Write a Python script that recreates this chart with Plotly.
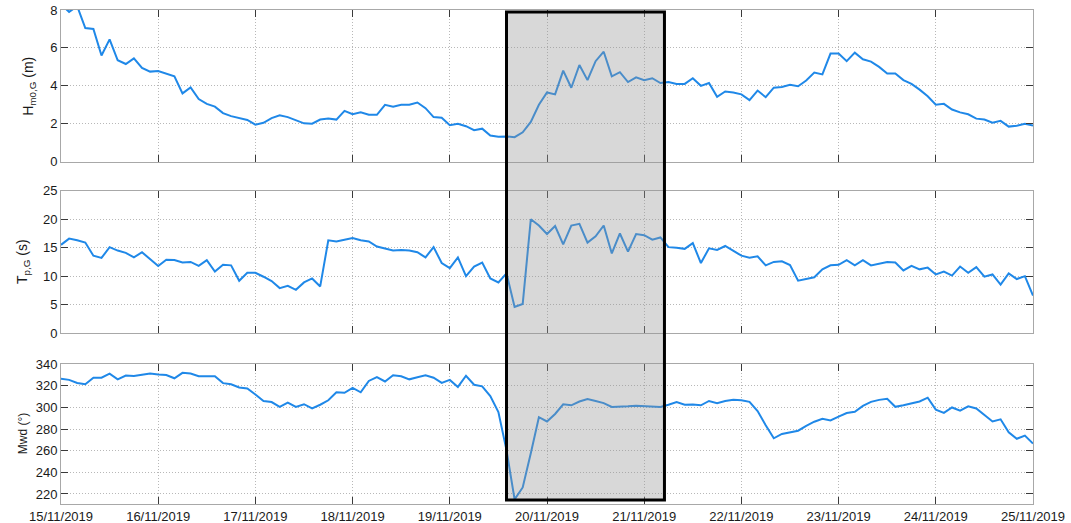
import pandas as pd
import plotly.graph_objects as go

# 2-hourly wave parameters, 15/11/2019 00:00 -> 25/11/2019 00:00
times = pd.date_range("2019-11-15 00:00", periods=121, freq="2h")

hm0 = [8.3, 7.9, 8.2, 7.05, 7.0, 5.6, 6.45, 5.35, 5.15, 5.45, 4.95, 4.75,
       4.78, 4.65, 4.5, 3.6, 3.92, 3.3, 3.05, 2.9, 2.56, 2.4, 2.3, 2.2,
       1.95, 2.05, 2.3, 2.45, 2.35, 2.2, 2.02, 2.0, 2.22, 2.28, 2.22, 2.68,
       2.5, 2.6, 2.47, 2.47, 3.0, 2.9, 3.0, 3.0, 3.12, 2.82, 2.35, 2.32,
       1.92, 2.0, 1.87, 1.66, 1.74, 1.38, 1.32, 1.33, 1.29, 1.55, 2.1, 3.0,
       3.65, 3.55, 4.8, 3.9, 5.1, 4.3, 5.3, 5.8, 4.5, 4.72, 4.2, 4.45,
       4.3, 4.4, 4.15, 4.2, 4.1, 4.1, 4.4, 4.0, 4.15, 3.42, 3.7, 3.65,
       3.55, 3.25, 3.75, 3.4, 3.9, 3.94, 4.05, 3.98, 4.28, 4.7, 4.6, 5.7,
       5.7, 5.3, 5.75, 5.4, 5.28, 5.0, 4.65, 4.65, 4.3, 4.1, 3.8, 3.45,
       3.0, 3.05, 2.75, 2.6, 2.5, 2.27, 2.22, 2.05, 2.15, 1.85, 1.9, 2.0,
       1.9]

tp = [15.5, 16.6, 16.3, 15.9, 13.6, 13.2, 15.1, 14.5, 14.1, 13.3, 14.2, 13.0,
      11.8, 12.9, 12.85, 12.4, 12.5, 11.8, 12.8, 10.8, 12.0, 11.9, 9.2, 10.6,
      10.6, 9.9, 9.14, 7.9, 8.3, 7.6, 8.9, 9.6, 8.2, 16.3, 16.1, 16.4,
      16.7, 16.3, 16.1, 15.2, 14.8, 14.5, 14.6, 14.5, 14.2, 13.3, 15.1, 12.3,
      11.4, 13.3, 10.0, 11.7, 12.4, 9.6, 8.9, 10.5, 4.6, 5.1, 20.0, 18.9,
      17.4, 18.8, 15.6, 18.9, 19.2, 15.9, 17.0, 18.9, 14.0, 17.5, 14.3, 17.4,
      17.2, 16.4, 16.8, 15.1, 15.0, 14.8, 15.8, 12.3, 14.9, 14.6, 15.3, 14.5,
      13.6, 13.25, 13.5, 11.9, 12.5, 12.6, 11.95, 9.2, 9.5, 9.8, 11.2, 11.9,
      12.0, 12.8, 11.9, 12.8, 11.9, 12.25, 12.5, 12.4, 11.0, 11.8, 11.2, 11.5,
      10.3, 10.8, 10.1, 11.7, 10.6, 11.6, 9.9, 10.3, 8.5, 10.5, 9.5, 10.0,
      6.6]

mwd = [326.5, 325.5, 322.7, 321.5, 327.5, 327.5, 331.2, 326, 329.5, 329, 330.2, 331.3,
       330.5, 330, 327, 332, 331.4, 328.9, 328.9, 328.9, 322.5, 321.5, 318.5, 317.5,
       312, 306, 305, 300.5, 304.5, 300.5, 303, 299.2, 302.5, 306.6, 314, 313.5,
       318, 314, 324.5, 328, 324, 329.8, 328.8, 326, 328, 329.7, 327.5, 322.7,
       325.5, 319, 329.3, 321, 319.5, 310.5, 295.8, 260.5, 215, 226, 257.7, 291,
       287, 294, 302.9, 302, 305.5, 307.8, 306, 304, 300.4, 301, 301, 301.5,
       301, 301, 300.5, 302.5, 305, 302.5, 302.7, 302, 306, 304, 306, 307.2,
       306.7, 305.2, 296.7, 283.6, 271.5, 275.5, 277, 278.5, 283, 286.8, 289.5, 288,
       291.5, 294.8, 296, 301.5, 305.2, 307, 308, 300.6, 302, 304.1, 305.5, 309,
       298, 295, 300, 297, 301, 299, 293, 287, 289, 277, 271, 274,
       266.6]

day_ticks = pd.date_range("2019-11-15", "2019-11-25", freq="D")
day_labels = [d.strftime("%d/%m/%Y") for d in day_ticks]

storm_start = "2019-11-19 14:00"
storm_end = "2019-11-21 05:00"

LINE_BLUE = "#1f88e8"
FONT = "Liberation Sans, Arial, sans-serif"
GRID = dict(showgrid=True, gridcolor="#b8b8b8", griddash="1px,2px", gridwidth=1)
FRAME = dict(ticks="inside", ticklen=7, tickcolor="#3a3a3a", tickwidth=1,
             showline=True, linecolor="#a8a8a8", linewidth=1, mirror="ticks",
             zeroline=False, automargin=False,
             tickfont=dict(family=FONT, size=13, color="#1a1a1a"))

fig = go.Figure()
for series, xa, ya in [(hm0, "x", "y"), (tp, "x2", "y2"), (mwd, "x3", "y3")]:
    fig.add_trace(go.Scatter(x=times, y=series, mode="lines", xaxis=xa, yaxis=ya,
                             line=dict(color=LINE_BLUE, width=2), showlegend=False))

domains = {1: [0.693, 1.0], 2: [0.346, 0.634], 3: [0.0, 0.283]}


def x_axis(anchor, labels):
    return dict(type="date", anchor=anchor, domain=[0, 1],
                range=[day_ticks[0], day_ticks[-1]],
                tickvals=day_ticks, ticktext=day_labels, showticklabels=labels,
                **GRID, **FRAME)


def y_axis(anchor, dom, rng, dtick, tick0):
    return dict(anchor=anchor, domain=dom, range=rng, dtick=dtick, tick0=tick0,
                **GRID, **FRAME)


fig.update_layout(
    width=1071, height=523,
    margin=dict(l=61, r=38, t=10, b=19),
    paper_bgcolor="white", plot_bgcolor="white",
    xaxis=x_axis("y", False),
    xaxis2=x_axis("y2", False),
    xaxis3=x_axis("y3", True),
    yaxis=y_axis("x", domains[1], [0, 8], 2, 0),
    yaxis2=y_axis("x2", domains[2], [0, 25], 5, 0),
    yaxis3=y_axis("x3", domains[3], [210.7, 340], 20, 220),
)

# axis titles
titles = [
    ("H<sub>m0,G</sub> (m)", -0.033, sum(domains[1]) / 2, 14),
    ("T<sub>p,G</sub> (s)", -0.039, sum(domains[2]) / 2, 14),
    ("Mwd (°)", -0.039, sum(domains[3]) / 2, 12),
]
for text, xp, yp, size in titles:
    fig.add_annotation(text=text, xref="paper", yref="paper", x=xp, y=yp,
                       textangle=-90, showarrow=False, xanchor="center", yanchor="middle",
                       font=dict(family=FONT, size=size, color="#1a1a1a"))

# storm window highlight across all panels
fig.add_shape(type="rect", xref="x3", yref="paper",
              x0=storm_start, x1=storm_end, y0=0.008, y1=0.996,
              fillcolor="rgba(150,150,150,0.37)",
              line=dict(color="black", width=3), layer="above")

fig.write_html("out.html")
